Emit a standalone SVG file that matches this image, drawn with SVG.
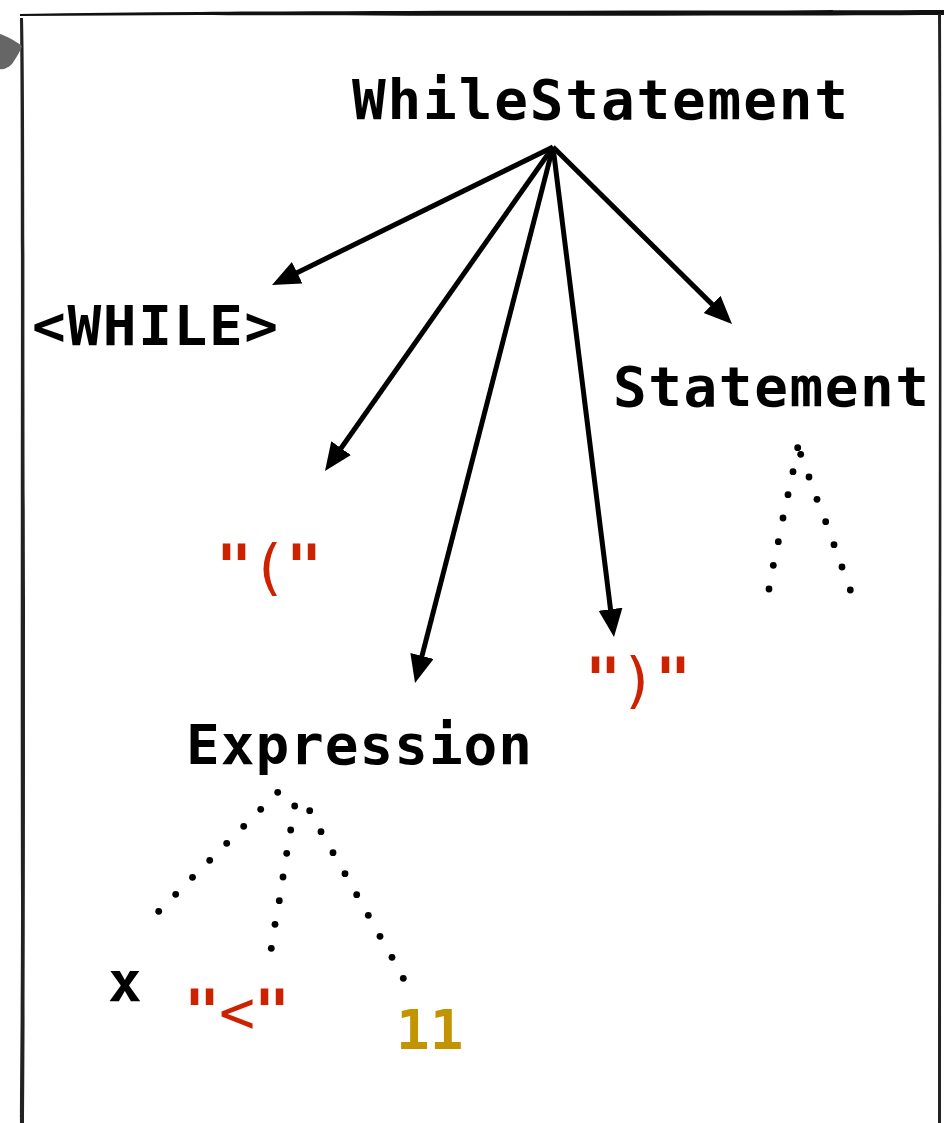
<svg xmlns="http://www.w3.org/2000/svg" width="944" height="1123" viewBox="0 0 944 1123">
<defs>
<style>
.t{font-family:"DejaVu Sans Mono","Liberation Mono",monospace;font-weight:bold;font-size:56px;fill:#000}
.r{fill:#cc2200;font-size:60px}
.n{font-weight:normal}
.g{fill:#c29400}
.c{stroke:#000;stroke-width:5;fill:none;marker-end:url(#ah)}
.d{fill:#000}
</style>
<marker id="ah" markerUnits="userSpaceOnUse" markerWidth="30" markerHeight="26" refX="16" refY="12" orient="auto">
<path d="M0,0 L28,12 L0,24 z" fill="#000"/>
</marker>
</defs>
<rect width="944" height="1123" fill="#fff"/>
<g id="frame">
<path d="M20,14 C80,13 140,12 200,12 C400,10 700,11 944,10 L944,15 C700,16 400,16 200,15 C140,15 80,16 20,16 z" fill="#111"/>
<path d="M20,18 C22,200 20,600 21,900 C21,1000 20,1080 20,1123 L24,1123 C25,1000 25,800 25,600 C24,300 25,100 23,18 z" fill="#222"/>
<path d="M938,14 C940,300 938,700 938,1123 L941,1123 C941,700 942,300 941,14 z" fill="#222"/>
<path d="M0,34 C6,36 14,40 22,46 C20,52 16,58 12,64 C8,68 3,70 0,69 z" fill="#666"/>
</g>
<g id="connectors">
<line class="c" x1="553" y1="147" x2="282.8" y2="279.7"/>
<line class="c" x1="553" y1="147" x2="331.9" y2="461.2"/>
<line class="c" x1="553" y1="147" x2="418.0" y2="671.4"/>
<line class="c" x1="553" y1="147" x2="612.5" y2="625.1"/>
<line class="c" x1="553" y1="147" x2="723.5" y2="315.6"/>
<g id="dots-statement" class="d">
<circle cx="797.7" cy="447.7" r="3.4"/><circle cx="793" cy="471.7" r="3.4"/><circle cx="788" cy="494.7" r="3.4"/><circle cx="783" cy="518" r="3.4"/><circle cx="778.3" cy="541.7" r="3.4"/><circle cx="773.3" cy="565.3" r="3.4"/><circle cx="769" cy="589" r="3.4"/>
<circle cx="800.7" cy="454.3" r="3.4"/><circle cx="809" cy="477" r="3.4"/><circle cx="817" cy="499.3" r="3.4"/><circle cx="825.7" cy="521.7" r="3.4"/><circle cx="834" cy="544.7" r="3.4"/><circle cx="842" cy="567" r="3.4"/><circle cx="850.3" cy="590" r="3.4"/>
</g>
<g id="dots-expression" class="d">
<circle cx="277.7" cy="792.3" r="3.4"/><circle cx="260.7" cy="809.3" r="3.4"/><circle cx="243.7" cy="826.3" r="3.4"/><circle cx="226.7" cy="843.3" r="3.4"/><circle cx="209.7" cy="860.3" r="3.4"/><circle cx="192.5" cy="877.3" r="3.4"/><circle cx="175.7" cy="894.3" r="3.4"/><circle cx="158.7" cy="911.3" r="3.4"/>
<circle cx="294.7" cy="806" r="3.4"/><circle cx="290.7" cy="830" r="3.4"/><circle cx="286.7" cy="853.3" r="3.4"/><circle cx="283" cy="877" r="3.4"/><circle cx="279.3" cy="900.7" r="3.4"/><circle cx="275" cy="924.3" r="3.4"/><circle cx="271.3" cy="948.3" r="3.4"/>
<circle cx="309.7" cy="810.7" r="3.4"/><circle cx="321" cy="831.7" r="3.4"/><circle cx="333" cy="852.7" r="3.4"/><circle cx="345" cy="873.7" r="3.4"/><circle cx="356.7" cy="894.7" r="3.4"/><circle cx="368.3" cy="915.3" r="3.4"/><circle cx="380" cy="936.3" r="3.4"/><circle cx="392" cy="957.3" r="3.4"/><circle cx="403.3" cy="978.3" r="3.4"/>
</g>
</g>
<g id="node-while-statement"><text class="t" x="352" y="119" textLength="496">WhileStatement</text></g>
<g id="node-while"><text class="t" x="32" y="345" textLength="246">&lt;WHILE&gt;</text></g>
<g id="node-statement"><text class="t" x="613" y="406" textLength="316">Statement</text></g>
<g id="node-lparen"><text class="t r" x="216" y="588" textLength="106">"<tspan class="n">(</tspan>"</text></g>
<g id="node-expression"><text class="t" x="186" y="764" textLength="346">Expression</text></g>
<g id="node-rparen"><text class="t r" x="585" y="701" textLength="106">"<tspan class="n">)</tspan>"</text></g>
<g id="node-x"><text class="t" x="108" y="1001">x</text></g>
<g id="node-lt"><text class="t r" x="184" y="1033" textLength="106">"<tspan class="n">&lt;</tspan>"</text></g>
<g id="node-11"><text class="t g" x="396" y="1049">11</text></g>
</svg>
